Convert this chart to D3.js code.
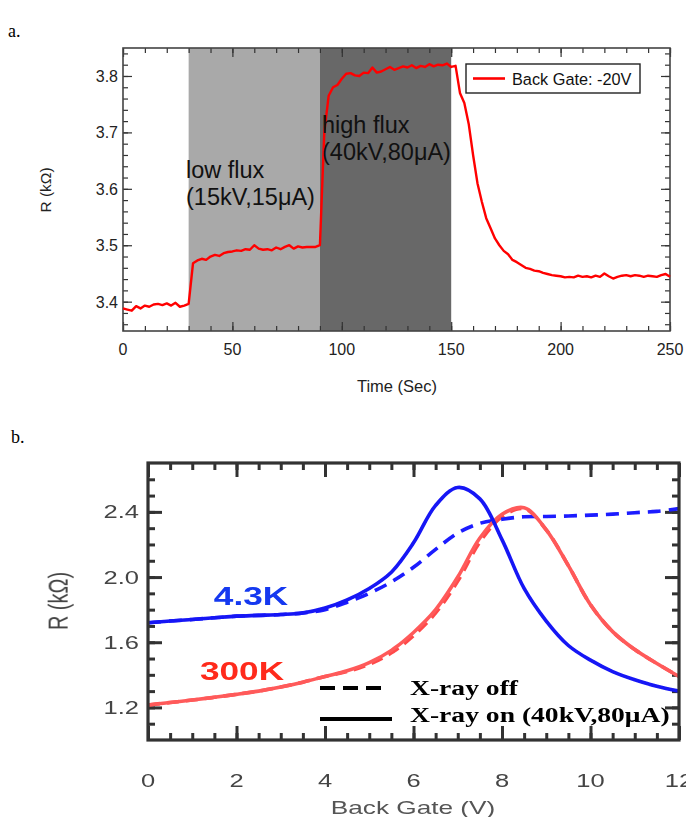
<!DOCTYPE html>
<html>
<head>
<meta charset="utf-8">
<script src="https://cdn.jsdelivr.net/npm/d3@7"></script>
<style>
body { margin: 0; background: #fff; }
svg { display: block; }
</style>
</head>
<body>
<svg id="chart" width="686" height="817"></svg>
<script>
// panel a : R vs time, back gate -20V
var timeSec = [0,2,4,6,8,10,12,14,16,18,20,22,24,26,28,30,32,34,36,38,40,42,44,46,48,50,
  52,54,56,58,60,62,64,66,68,70,72,74,76,78,80,82,84,86,88,90,92,94,96,98,100,
  102,104,106,108,110,112,114,116,118,120,122,124,126,128,130,132,134,136,138,140,
  142,144,146,148,150,152,154,156,158,160,162,164,166,168,170,172,174,176,178,180,
  182,184,186,188,190,192,194,196,198,200,202,204,206,208,210,212,214,216,218,220,
  222,224,226,228,230,232,234,236,238,240,242,244,246,248,250]
var resistA = [3.388,3.386,3.384,3.392,3.388,3.393,3.391,3.395,3.396,3.394,3.397,3.393,3.398,3.391,3.393,3.396,
  3.468,3.473,3.476,3.474,3.480,3.483,3.481,3.486,3.488,3.489,3.491,3.490,3.493,3.492,3.500,3.494,3.492,3.493,
  3.491,3.496,3.493,3.497,3.500,3.494,3.498,3.496,3.497,3.497,3.497,3.500,
  3.700,3.765,3.780,3.784,3.795,3.804,3.805,3.801,3.800,3.806,3.805,3.815,3.806,3.808,3.812,3.816,3.811,3.814,
  3.817,3.815,3.819,3.814,3.818,3.816,3.821,3.817,3.820,3.819,3.822,3.816,3.818,
  3.770,3.752,3.715,3.660,3.610,3.577,3.548,3.530,3.512,3.500,3.490,3.484,3.474,3.470,3.465,3.460,3.458,3.455,
  3.454,3.451,3.449,3.447,3.446,3.445,3.443,3.444,3.443,3.446,3.444,3.445,3.443,3.446,3.444,3.450,3.445,3.441,
  3.444,3.446,3.447,3.445,3.447,3.446,3.444,3.446,3.445,3.444,3.447,3.449,3.444]
var bandStart = [30, 90]
var bandEnd = [90, 150]
var bandLabel = [["low flux", "(15kV,15\u03bcA)"], ["high flux", "(40kV,80\u03bcA)"]]
var timeTicks = [0, 50, 100, 150, 200, 250]
var resTicksA = [3.4, 3.5, 3.6, 3.7, 3.8]

// panel b : R vs back gate, X-ray on / off
var gateV = [0,0.5,1,1.5,2,2.5,3,3.5,4,4.5,5,5.5,6,6.5,7,7.5,8,8.5,9,9.5,10,10.5,11,11.5,12]
var lowTOn  = [1.72,1.73,1.74,1.75,1.76,1.765,1.77,1.78,1.81,1.86,1.93,2.03,2.21,2.44,2.55,2.48,2.23,1.93,1.73,1.58,1.49,1.42,1.37,1.33,1.30]
var lowTOff = [1.72,1.73,1.74,1.75,1.76,1.765,1.77,1.78,1.80,1.845,1.90,1.97,2.06,2.17,2.27,2.33,2.355,2.37,2.372,2.375,2.38,2.386,2.395,2.403,2.42]
var roomTOn  = [1.215,1.23,1.245,1.262,1.28,1.30,1.325,1.355,1.39,1.425,1.475,1.55,1.66,1.80,2.00,2.24,2.385,2.425,2.29,2.07,1.83,1.665,1.555,1.47,1.39]
var roomTOff = [1.215,1.23,1.245,1.262,1.28,1.30,1.325,1.355,1.39,1.42,1.465,1.535,1.64,1.78,1.975,2.215,2.37,2.42,2.29,2.07,1.83,1.665,1.555,1.47,1.39]
var gateTicks = [0, 2, 4, 6, 8, 10, 12]
var resTicksB = [1.2, 1.6, 2.0, 2.4]

var svg = d3.select("#chart")
var sans = "'Liberation Sans', Arial, sans-serif"
var serif = "'Liberation Serif', 'Times New Roman', serif"

// inward ticks on all four sides of a frame
function frameTicks(g, sx, sy, xv, yv, len, m, col, w) {
  var sides = [
    [d3.axisBottom(sx).tickValues(xv), "translate(0," + m.bottom + ")"],
    [d3.axisTop(sx).tickValues(xv), "translate(0," + m.top + ")"],
    [d3.axisLeft(sy).tickValues(yv), "translate(" + m.left + ",0)"],
    [d3.axisRight(sy).tickValues(yv), "translate(" + m.right + ",0)"]
  ]
  sides.forEach(function(s){
    var a = g.append("g").attr("transform", s[1])
      .call(s[0].tickSize(-len).tickFormat(""))
    a.select(".domain").remove()
    a.selectAll("line").attr("stroke", col).attr("stroke-width", w)
  })
}

// ================= panel a =================
var ma = {left: 123, right: 670, top: 48, bottom: 331}
var xa = d3.scaleLinear().domain([0, 250]).range([ma.left, ma.right])
var ya = d3.scaleLinear().domain([3.348, 3.8496]).range([ma.bottom, ma.top])
var ga = svg.append("g")

svg.append("text").attr("x", 8).attr("y", 37).text("a.")
  .attr("font-family", serif).attr("font-size", 18)

var bandFill = ["#a9a9a9", "#686868"]
ga.selectAll("rect.band").data(bandStart).enter().append("rect")
  .attr("x", function(d){ return xa(d) })
  .attr("width", function(d, i){ return xa(bandEnd[i]) - xa(d) })
  .attr("y", ma.top).attr("height", ma.bottom - ma.top)
  .attr("fill", function(d, i){ return bandFill[i] })

frameTicks(ga, xa, ya, d3.range(0, 251, 10), d3.range(3.36, 3.85, 0.02), 5, ma, "#333", 1.2)
frameTicks(ga, xa, ya, timeTicks, resTicksA, 9, ma, "#333", 1.2)

ga.append("rect").attr("x", ma.left).attr("y", ma.top)
  .attr("width", ma.right - ma.left).attr("height", ma.bottom - ma.top)
  .attr("fill", "none").attr("stroke", "#444").attr("stroke-width", 1.6)

var lineA = d3.line()
  .x(function(d, i){ return xa(timeSec[i]) })
  .y(function(d){ return ya(d) })
ga.append("path").datum(resistA).attr("d", lineA)
  .attr("fill", "none").attr("stroke", "#ff0000").attr("stroke-width", 2.4)
  .attr("stroke-linejoin", "round")

// band annotations
var labelX = [186, 322], labelY = [178, 133]
bandLabel.forEach(function(lines, i){
  var t = ga.append("text").attr("font-family", sans).attr("font-size", 23.5).attr("fill", "#111")
  lines.forEach(function(s, k){
    t.append("tspan").attr("x", labelX[i]).attr("y", labelY[i] + k * 27).text(s)
  })
})

// axis labels
ga.selectAll("text.yt").data(resTicksA).enter().append("text")
  .attr("x", ma.left - 5).attr("y", function(d){ return ya(d) + 6 })
  .attr("text-anchor", "end").attr("font-family", sans).attr("font-size", 16).attr("fill", "#222")
  .text(function(d){ return d3.format(".1f")(d) })
ga.selectAll("text.xt").data(timeTicks).enter().append("text")
  .attr("x", function(d){ return xa(d) }).attr("y", 355)
  .attr("text-anchor", "middle").attr("font-family", sans).attr("font-size", 16).attr("fill", "#222")
  .text(function(d){ return d })
ga.append("text").attr("x", 397).attr("y", 392).attr("text-anchor", "middle")
  .attr("font-family", sans).attr("font-size", 16.5).attr("fill", "#222").text("Time (Sec)")
ga.append("text").attr("transform", "translate(51,190) rotate(-90)").attr("text-anchor", "middle")
  .attr("font-family", sans).attr("font-size", 15.5).attr("fill", "#222").text("R (k\u03a9)")

// legend
ga.append("rect").attr("x", 466).attr("y", 64).attr("width", 174).attr("height", 29)
  .attr("fill", "#fff").attr("stroke", "#222").attr("stroke-width", 1.4)
ga.append("line").attr("x1", 473).attr("x2", 505).attr("y1", 78.5).attr("y2", 78.5)
  .attr("stroke", "#ff0000").attr("stroke-width", 2.6)
ga.append("text").attr("x", 512).attr("y", 84.5).attr("font-family", sans).attr("font-size", 16.3)
  .attr("fill", "#111").text("Back Gate: -20V")

// ================= panel b =================
var mb = {left: 148, right: 679, top: 463, bottom: 740}
var xb = d3.scaleLinear().domain([0, 12]).range([mb.left, mb.right])
var yb = d3.scaleLinear().domain([1.0, 2.7]).range([mb.bottom, mb.top])
var stretch = 1.38

svg.append("defs").append("filter").attr("id", "soft")
  .append("feGaussianBlur").attr("stdDeviation", 0.6)

svg.append("text").attr("x", 11).attr("y", 443).text("b.")
  .attr("font-family", serif).attr("font-size", 18)

var gb = svg.append("g").attr("filter", "url(#soft)")

frameTicks(gb, xb, yb, d3.range(0, 12.01, 0.5), d3.range(1.1, 2.65, 0.1), 7, mb, "#333", 3)
frameTicks(gb, xb, yb, gateTicks, resTicksB, 14, mb, "#333", 3)

var lineB = d3.line().curve(d3.curveCatmullRom)
  .x(function(d, i){ return xb(gateV[i]) })
  .y(function(d){ return yb(d) })
var curves = [
  {v: roomTOff, c: "#ff4a4a", dash: "12,7"},
  {v: lowTOff, c: "#1a1aff", dash: "13,8"},
  {v: roomTOn, c: "#ff5a5a", dash: null},
  {v: lowTOn, c: "#1414f5", dash: null}
]
curves.forEach(function(k){
  gb.append("path").datum(k.v).attr("d", lineB)
    .attr("fill", "none").attr("stroke", k.c).attr("stroke-width", 3.6)
    .attr("stroke-dasharray", k.dash)
})

gb.append("rect").attr("x", mb.left).attr("y", mb.top)
  .attr("width", mb.right - mb.left).attr("height", mb.bottom - mb.top)
  .attr("fill", "none").attr("stroke", "#333").attr("stroke-width", 3.2)

function wideText(g, x, y, s, size, anchor, fam, col, weight) {
  return g.append("text")
    .attr("transform", "translate(" + x + "," + y + ") scale(" + stretch + ",1)")
    .attr("text-anchor", anchor).attr("font-family", fam).attr("font-size", size)
    .attr("font-weight", weight || "normal").attr("fill", col).text(s)
}

resTicksB.forEach(function(d){
  wideText(gb, 139, yb(d) + 6.5, d3.format(".1f")(d), 18.5, "end", sans, "#444")
})
gateTicks.forEach(function(d){
  wideText(gb, xb(d), 787, d, 18.5, "middle", sans, "#444")
})
wideText(gb, 413, 814, "Back Gate (V)", 19, "middle", sans, "#555")
gb.append("text")
  .attr("transform", "translate(68,601) scale(" + stretch + ",1) rotate(-90)")
  .attr("text-anchor", "middle").attr("font-family", sans).attr("font-size", 20)
  .attr("fill", "#444").text("R (k\u03a9)")

wideText(gb, 251, 605, "4.3K", 25.5, "middle", sans, "#1238f0", "bold")
wideText(gb, 242, 680, "300K", 25.5, "middle", sans, "#ff2a1a", "bold")

// legend
gb.append("line").attr("x1", 320).attr("x2", 384).attr("y1", 688).attr("y2", 688)
  .attr("stroke", "#000").attr("stroke-width", 4).attr("stroke-dasharray", "15,8")
gb.append("line").attr("x1", 320).attr("x2", 392).attr("y1", 719).attr("y2", 719)
  .attr("stroke", "#000").attr("stroke-width", 4)
wideText(gb, 410, 695, "X-ray off", 20, "start", serif, "#000", "bold")
wideText(gb, 410, 722, "X-ray on (40kV,80\u03bcA)", 20, "start", serif, "#000", "bold")
</script>
</body>
</html>
